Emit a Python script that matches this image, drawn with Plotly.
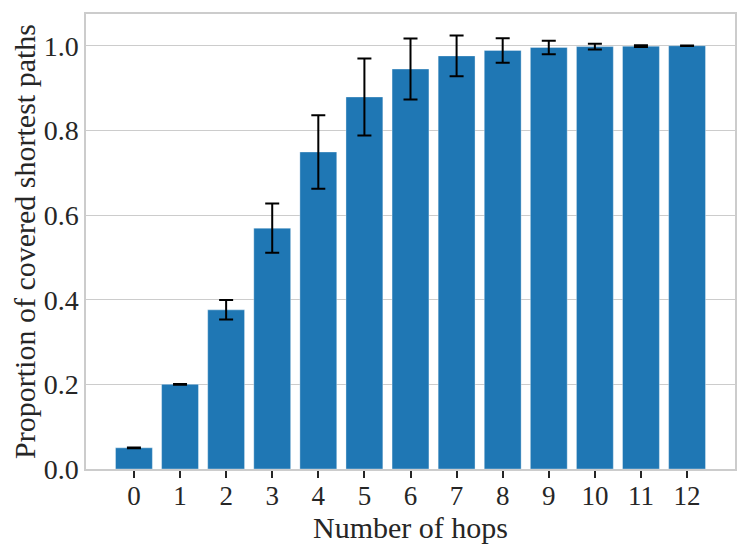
import plotly.graph_objects as go

# coverage of shortest paths per number of hops (mean and std)
hops = list(range(13))
proportion = [0.05, 0.20, 0.376, 0.569, 0.749, 0.879, 0.945, 0.976, 0.989, 0.996, 0.998, 0.999, 1.0]
std = [0.001, 0.001, 0.023, 0.058, 0.087, 0.091, 0.072, 0.048, 0.029, 0.016, 0.007, 0.002, 0.0005]

textcol = "#262626"
gridcol = "#cccccc"
fontname = "Liberation Serif"

fig = go.Figure()
fig.add_trace(go.Bar(
    x=hops, y=proportion,
    marker=dict(color="#1f77b4", line=dict(color="rgba(255,255,255,0.35)", width=1)),
    error_y=dict(type="data", array=std, visible=True, color="black", thickness=2, width=7),
))

# the page body has an 8px margin, so the figure is a bit smaller than the window
fig.update_layout(
    width=739, height=544,
    margin=dict(l=78, r=12, t=4, b=83),
    plot_bgcolor="white", paper_bgcolor="white",
    bargap=0.2, showlegend=False,
    font=dict(family=fontname, color=textcol, size=28),
)
fig.update_xaxes(
    range=[-1.04, 13.04], tickmode="array", tickvals=hops, ticktext=[str(h) for h in hops],
    showgrid=False, zeroline=False,
    showline=True, mirror=True, linecolor=gridcol, linewidth=1.5,
    ticks="outside", ticklen=7, tickwidth=1.5, tickcolor=textcol,
    tickfont=dict(size=27), ticklabelstandoff=-5,
    title=dict(text="Number of hops", font=dict(size=30), standoff=0),
)
fig.update_yaxes(
    range=[0, 1.075], tickvals=[0, 0.2, 0.4, 0.6, 0.8, 1.0], tickformat=".1f",
    showgrid=True, gridcolor=gridcol, gridwidth=1.2, zeroline=False,
    showline=True, mirror=True, linecolor=gridcol, linewidth=1.5,
    ticks="", tickfont=dict(size=28),
    title=dict(text="Proportion of covered shortest paths", font=dict(size=30), standoff=10),
)

fig.write_html("out.html")
